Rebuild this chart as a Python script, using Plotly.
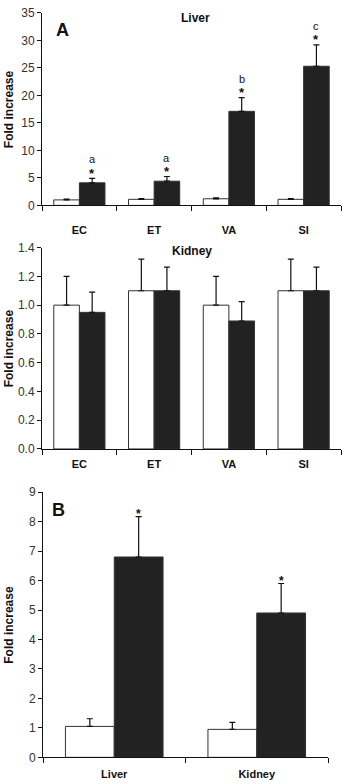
import plotly.graph_objects as go

# ---- data ----
sites = ["EC", "ET", "VA", "SI"]
liver_ctrl = [1.0, 1.1, 1.2, 1.1]
liver_ctrl_err = [0.15, 0.15, 0.15, 0.15]
liver_trt = [4.1, 4.4, 17.1, 25.3]
liver_trt_err = [0.8, 0.85, 2.5, 3.9]
liver_letters = ["a", "a", "b", "c"]

kidney_ctrl = [1.0, 1.1, 1.0, 1.1]
kidney_ctrl_err = [0.2, 0.22, 0.2, 0.22]
kidney_trt = [0.95, 1.1, 0.89, 1.1]
kidney_trt_err = [0.14, 0.165, 0.135, 0.165]

organs = ["Liver", "Kidney"]
b_ctrl = [1.05, 0.95]
b_ctrl_err = [0.26, 0.24]
b_trt = [6.8, 4.9]
b_trt_err = [1.37, 1.0]

WHITE = "#ffffff"
BLACK = "#222222"
FONT = "Liberation Sans, Arial, sans-serif"

fig = go.Figure()


def add_pair(cats, ctrl, ctrl_err, trt, trt_err, xa, ya):
    for vals, errs, col in ((ctrl, ctrl_err, WHITE), (trt, trt_err, BLACK)):
        fig.add_trace(go.Bar(
            x=cats, y=vals, xaxis=xa, yaxis=ya,
            marker=dict(color=col, line=dict(color="#333333", width=1)),
            error_y=dict(type="data", symmetric=False, array=errs,
                         arrayminus=[0] * len(errs), color="#111111",
                         thickness=1.2, width=3),
            showlegend=False, offsetgroup=("c" if col == WHITE else "t"),
            hoverinfo="skip",
        ))


add_pair(sites, liver_ctrl, liver_ctrl_err, liver_trt, liver_trt_err, "x", "y")
add_pair(sites, kidney_ctrl, kidney_ctrl_err, kidney_trt, kidney_trt_err, "x2", "y2")
add_pair(organs, b_ctrl, b_ctrl_err, b_trt, b_trt_err, "x3", "y3")

W = 342.0
H = 784.0

xcommon = dict(type="category", showline=True, linecolor="#111111", linewidth=1,
               ticks="outside", tickson="boundaries", ticklen=5, tickcolor="#111111",
               tickfont=dict(family=FONT, size=11, color="#111111"),
               showgrid=False, zeroline=False)
ycommon = dict(showline=True, linecolor="#111111", linewidth=1, ticks="outside",
               ticklen=4, tickcolor="#111111",
               tickfont=dict(family=FONT, size=12, color="#333333"),
               showgrid=False, zeroline=False)

fig.update_layout(
    width=342, height=784, margin=dict(l=0, r=0, t=0, b=0),
    paper_bgcolor="white", plot_bgcolor="white",
    barmode="group",
    xaxis=dict(xcommon, domain=[42 / W, 341 / W], anchor="y", ticklabelstandoff=14,
               tickvals=sites, ticktext=["<b>%s</b>" % s for s in sites]),
    yaxis=dict(ycommon, domain=[1 - 202 / H, 1 - 6 / H], range=[0, 35], dtick=5, anchor="x"),
    xaxis2=dict(xcommon, domain=[42 / W, 341 / W], anchor="y2", ticklabelstandoff=5,
                tickvals=sites, ticktext=["<b>%s</b>" % s for s in sites]),
    yaxis2=dict(ycommon, domain=[1 - 450 / H, 1 - 245 / H], range=[0, 1.4], dtick=0.2,
                tickformat=".1f", anchor="x2"),
    xaxis3=dict(xcommon, domain=[43 / W, 328 / W], anchor="y3", ticklabelstandoff=6,
                tickvals=organs, ticktext=["<b>%s</b>" % s for s in organs]),
    yaxis3=dict(ycommon, domain=[1 - 764 / H, 1 - 494 / H], range=[0, 9], dtick=1, anchor="x3"),
    bargap=0.315,
)

ann = []
# y-axis titles
for ya in ("yaxis", "yaxis2", "yaxis3"):
    dom = fig.layout[ya].domain
    ann.append(dict(x=9 / W, y=(dom[0] + dom[1]) / 2, xref="paper", yref="paper",
                    xanchor="center", yanchor="middle",
                    text="<b>Fold increase</b>", textangle=-90, showarrow=False,
                    font=dict(family=FONT, size=12, color="#111111")))

# panel titles
def paper_text(px, py, txt, size):
    ann.append(dict(x=px / W, y=1 - py / H, xref="paper", yref="paper", text=txt,
                    xanchor="center", yanchor="middle", showarrow=False,
                    font=dict(family=FONT, size=size, color="#111111")))


paper_text(195, 11, "<b>Liver</b>", 12)
paper_text(192, 248, "<b>Kidney</b>", 12)
paper_text(62, 23, "<b>A</b>", 18)
paper_text(58, 512, "<b>B</b>", 18)

# significance markers, panel A liver
off1 = (1 - 0.315) / 4
for i, (v, e, l) in enumerate(zip(liver_trt, liver_trt_err, liver_letters)):
    ann.append(dict(x=i + off1, y=v + e, xref="x", yref="y", text="<b>*</b>",
                    showarrow=False, xanchor="center", yanchor="middle", yshift=5,
                    font=dict(family=FONT, size=13, color="#111111")))
    ann.append(dict(x=i + off1, y=v + e, xref="x", yref="y", text=l,
                    showarrow=False, xanchor="center", yanchor="middle", yshift=19,
                    font=dict(family=FONT, size=11, color="#111111")))

# panel B
for i, (v, e) in enumerate(zip(b_trt, b_trt_err)):
    ann.append(dict(x=i + off1, y=v + e, xref="x3", yref="y3", text="<b>*</b>",
                    showarrow=False, xanchor="center", yanchor="middle", yshift=3,
                    font=dict(family=FONT, size=12, color="#111111")))

fig.update_layout(annotations=ann)
fig.write_html("out.html", config={"displayModeBar": False},
               post_script="document.body.style.margin='0';document.body.style.overflow='hidden';")
